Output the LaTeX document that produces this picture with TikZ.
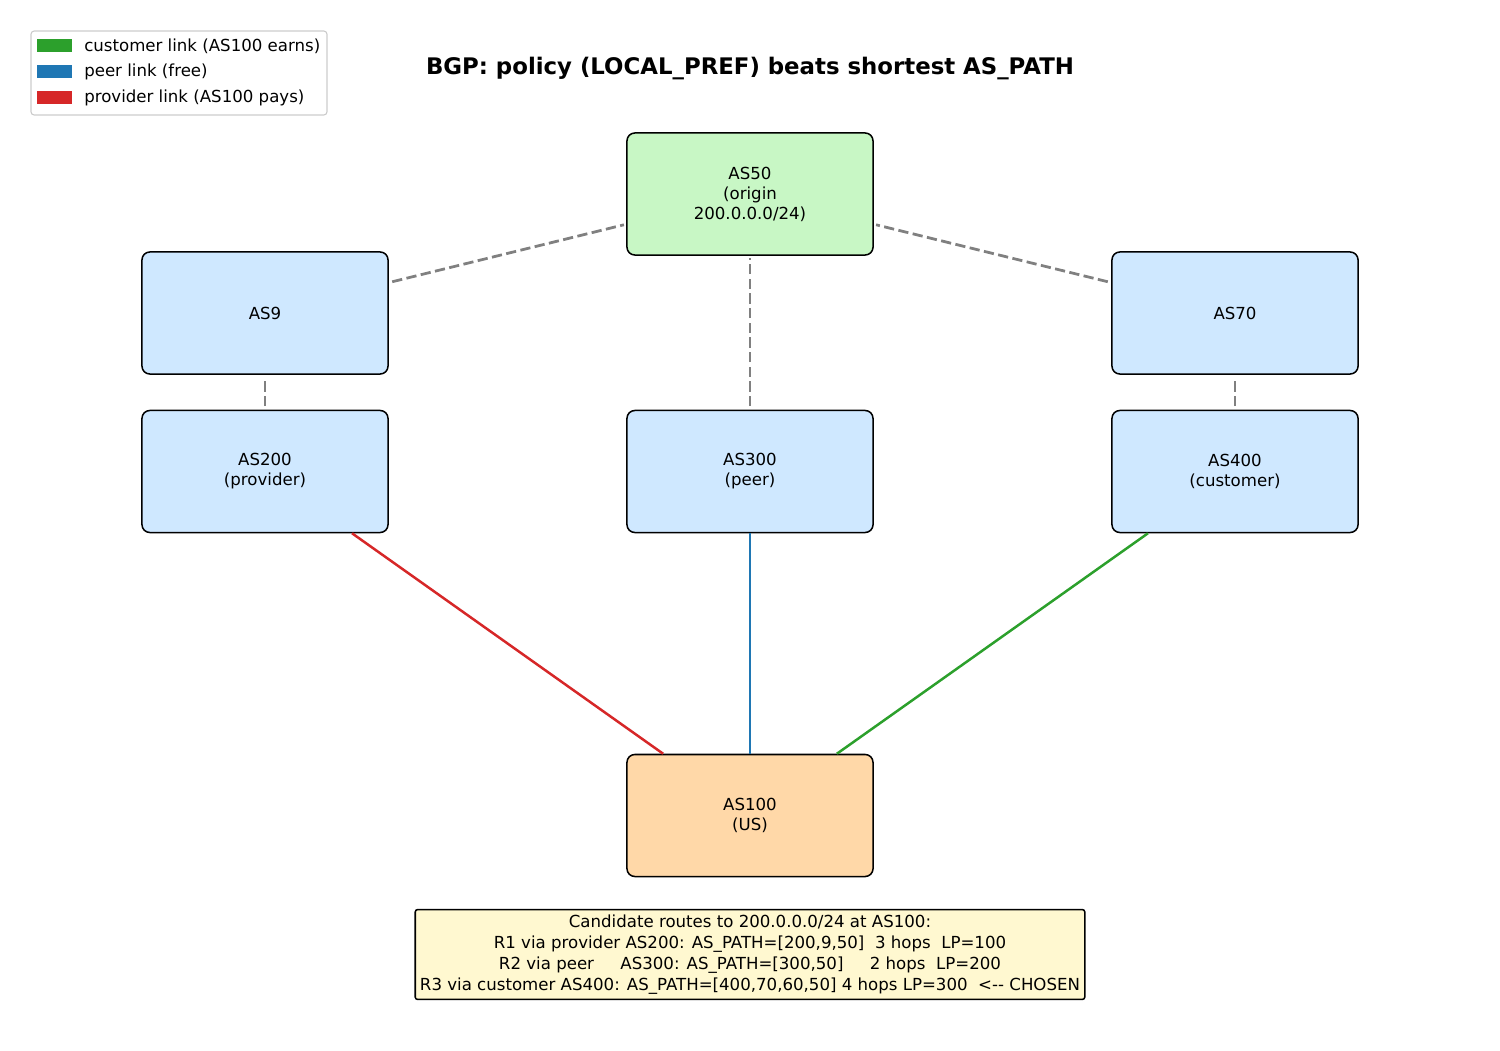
\documentclass[tikz,border=0pt]{standalone}
\usepackage{fontspec}
\setmainfont{DejaVu Sans}
\usetikzlibrary{positioning}
\definecolor{transitfill}{RGB}{207,232,255}
\definecolor{originfill}{RGB}{200,247,197}
\definecolor{usfill}{RGB}{255,216,168}
\definecolor{notefill}{RGB}{255,248,208}
\definecolor{custgreen}{HTML}{2CA02C}
\definecolor{peerblue}{HTML}{1F77B4}
\definecolor{provred}{HTML}{D62728}
\definecolor{pathgray}{HTML}{808080}
\tikzset{
    asbox/.style={rectangle, rounded corners=2mm, draw, line width=1.1pt, minimum width=62.5mm, minimum height=31mm, align=center, font=\fontsize{12}{14.5}\selectfont},
    transit/.style={asbox, fill=transitfill},
    origin/.style={asbox, fill=originfill},
    home/.style={asbox, fill=usfill},
    notebox/.style={rectangle, rounded corners=0.6mm, draw, line width=1.1pt, fill=notefill, align=center, inner xsep=1.2mm, inner ysep=1.4mm, font=\fontsize{12}{15}\selectfont},
    pathlink/.style={draw=pathgray, line width=2pt, dash pattern=on 7.4pt off 3.2pt, shorten >=0.6mm, shorten <=0.9mm},
    bizlink/.style={draw, line width=1.8pt},
    keypatch/.style={rectangle, inner sep=0pt, minimum width=8.9mm, minimum height=3.3mm},
    keytext/.style={anchor=west, inner sep=0pt, font=\fontsize{12}{14}\selectfont},
}

\begin{document}
\begin{tikzpicture}[x=0.254mm, y=-0.254mm]
    \useasboundingbox (0,0) rectangle (1500,1050);
    % title
    \node[font=\fontsize{16.5}{19}\selectfont\bfseries] (title) at (750,69) {BGP: policy (LOCAL\_PREF) beats shortest AS\_PATH};
    % legend
    \draw[draw=black!20, line width=0.8pt, rounded corners=0.8mm] (31,31) rectangle (327,115);
    \node[keypatch, fill=custgreen] (kcust) at (54.5,45.5) {};
    \node[keypatch, fill=peerblue] (kpeer) at (54.5,71.5) {};
    \node[keypatch, fill=provred] (kprov) at (54.5,97.5) {};
    \node[keytext] (tcust) at (84,46) {customer link (AS100 earns)};
    \node[keytext] (tpeer) at (84,72) {peer link (free)};
    \node[keytext] (tprov) at (84,98) {provider link (AS100 pays)};
    % autonomous systems
    \node[origin] (as50) at (750,194) {AS50\\(origin\\200.0.0.0/24)};
    \node[transit] (as9) at (265,313) {AS9};
    \node[transit] (as70) at (1235,313) {AS70};
    \node[transit] (as200) at (265,471.5) {AS200\\(provider)};
    \node[transit] (as300) at (750,471.5) {AS300\\(peer)};
    \node[transit] (as400) at (1235,471.5) {AS400\\(customer)};
    \node[home] (as100) at (750,815.5) {AS100\\(US)};
    % paths towards the origin
    \draw[pathlink] (as9) -- (as50);
    \draw[pathlink] (as70) -- (as50);
    \draw[pathlink] (as300) -- (as50);
    \draw[pathlink] (as200) -- (as9);
    \draw[pathlink] (as400) -- (as70);
    % business relationships of AS100
    \draw[bizlink, provred] (as200) -- (as100);
    \draw[bizlink, peerblue] (as300) -- (as100);
    \draw[bizlink, custgreen] (as400) -- (as100);
    % candidate routes
    \node[notebox] (routes) at (750,954.5) {Candidate routes to 200.0.0.0/24 at AS100:\\
        R1 via provider AS200: AS\_PATH=[200,9,50]\ \ 3 hops\ \ LP=100\\
        R2 via peer\ \ \ \ \ AS300: AS\_PATH=[300,50]\ \ \ \ \ 2 hops\ \ LP=200\\
        R3 via customer AS400: AS\_PATH=[400,70,60,50] 4 hops LP=300\ \ <-{}- CHOSEN};
\end{tikzpicture}
\end{document}
